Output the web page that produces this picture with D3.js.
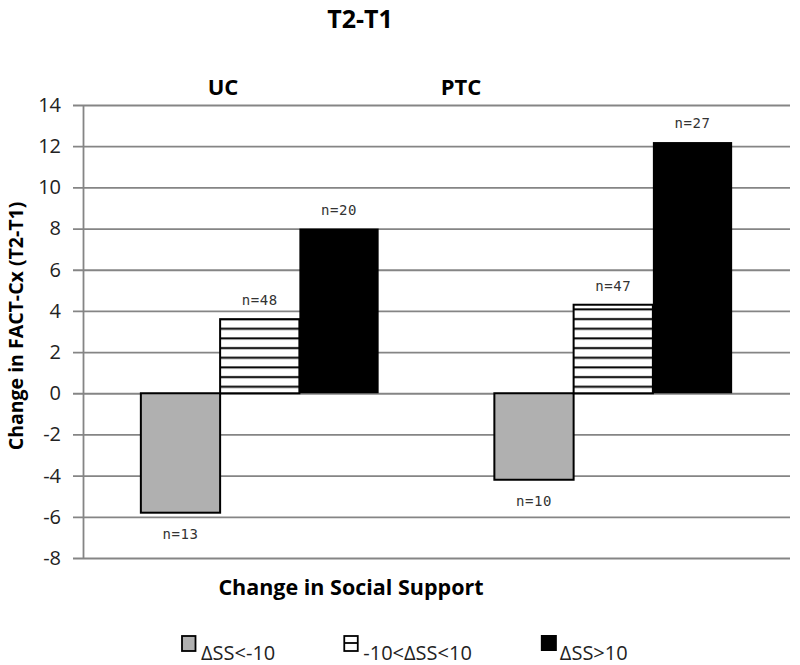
<!DOCTYPE html>
<html>
<head>
<meta charset="utf-8">
<script src="https://cdn.jsdelivr.net/npm/d3@7"></script>
<style>
  html,body{margin:0;padding:0;background:#fff;}
  svg{display:block;font-family:'Open Sans',sans-serif;}
</style>
</head>
<body>
<svg id="chart" width="800" height="665"></svg>
<script>
// data
const groups=['UC','PTC'];
const series=['ΔSS<-10','-10<ΔSS<10','ΔSS>10'];
const ucValues=[-5.8,3.6,8.0];
const ptcValues=[-4.2,4.3,12.2];
const ucN=[13,48,20];
const ptcN=[10,47,27];
const yTicks=[-8,-6,-4,-2,0,2,4,6,8,10,12,14];

const rows=[
  {group:'UC',values:ucValues,ns:ucN},
  {group:'PTC',values:ptcValues,ns:ptcN}
];

const svg=d3.select('#chart');
const L=83,R=790,T=105,B=558;

const y=d3.scaleLinear().domain([-8,14]).range([B,T]);
const x0=d3.scaleBand().domain(groups).range([L,R]);
const x1=d3.scaleBand().domain(series).range([0,x0.bandwidth()]).paddingInner(0).paddingOuter(0.73);

// hatch pattern, phase tied to the zero line
const defs=svg.append('defs');
const hp=9.67;
const pat=defs.append('pattern').attr('id','hatch').attr('patternUnits','userSpaceOnUse')
  .attr('width',10).attr('height',hp).attr('patternTransform',`translate(0,${y(0)})`);
pat.append('rect').attr('width',10).attr('height',hp).attr('fill','#fff');
pat.append('rect').attr('y',hp-7.5).attr('width',10).attr('height',2).attr('fill','#000');

const fills=['#b0b0b0','url(#hatch)','#000'];

// axis + gridlines
const ax=svg.append('g').attr('transform',`translate(${L},0)`)
  .call(d3.axisLeft(y).tickValues(yTicks).tickFormat(d=>String(d)).tickSize(10).tickSizeOuter(0).tickPadding(12));
ax.select('.domain').attr('stroke','#858585').attr('stroke-width',1.8);
ax.selectAll('.tick line').attr('x1',-10).attr('x2',R-L).attr('stroke','#858585').attr('stroke-width',1.8);
ax.selectAll('.tick text').attr('font-size',20).attr('fill','#222').attr('font-family','Open Sans,sans-serif');

// bars
const gg=svg.append('g').selectAll('g').data(rows).join('g')
  .attr('transform',d=>`translate(${x0(d.group)},0)`);
const cells=d=>d.values.map((v,i)=>({s:series[i],v,i,n:d.ns[i]}));
gg.selectAll('rect').data(cells).join('rect')
  .attr('x',d=>x1(d.s)).attr('width',x1.bandwidth())
  .attr('y',d=>y(Math.max(0,d.v))).attr('height',d=>Math.abs(y(d.v)-y(0)))
  .attr('fill',d=>fills[d.i])
  .attr('stroke',d=>d.i===2?'none':'#000').attr('stroke-width',2);

gg.selectAll('text.n').data(cells).join('text')
  .attr('class','n')
  .attr('x',d=>x1(d.s)+x1.bandwidth()/2)
  .attr('y',d=>d.v>=0?y(d.v)-14:y(d.v)+26)
  .attr('text-anchor','middle')
  .attr('font-family','DejaVu Sans Mono,monospace').attr('font-size',14).attr('letter-spacing',0.6).attr('fill','#333')
  .text(d=>'n='+d.n);

// titles
svg.append('text').attr('x',360).attr('y',28).attr('text-anchor','middle')
  .attr('font-size',25).attr('font-weight',700).text('T2-T1');
svg.append('text').attr('x',223).attr('y',95).attr('text-anchor','middle')
  .attr('font-size',22).attr('font-weight',700).text('UC');
svg.append('text').attr('x',461).attr('y',95).attr('text-anchor','middle')
  .attr('font-size',22).attr('font-weight',700).text('PTC');
svg.append('text').attr('transform','translate(23,326) rotate(-90)').attr('text-anchor','middle')
  .attr('font-size',19.5).attr('font-weight',700).text('Change in FACT-Cx (T2-T1)');
svg.append('text').attr('x',351).attr('y',595).attr('text-anchor','middle')
  .attr('font-size',21.5).attr('font-weight',700).text('Change in Social Support');

// legend
let lx=182;
series.forEach((s,i)=>{
  const g=svg.append('g');
  const w=i===2?16:13.5;
  g.append('rect').attr('x',lx).attr('y',i===2?635:636).attr('width',w).attr('height',i===2?16:15)
    .attr('fill',i===1?'#fff':fills[i]).attr('stroke',i===2?'none':'#000').attr('stroke-width',1.8);
  if(i===1)g.append('line').attr('x1',lx).attr('x2',lx+w).attr('y1',643).attr('y2',643).attr('stroke','#000').attr('stroke-width',1.8);
  const t=g.append('text').attr('x',lx+19).attr('y',660).attr('font-size',20).attr('fill','#222').text(s);
  lx+=19+t.node().getComputedTextLength()+69;
});
</script>
</body>
</html>
